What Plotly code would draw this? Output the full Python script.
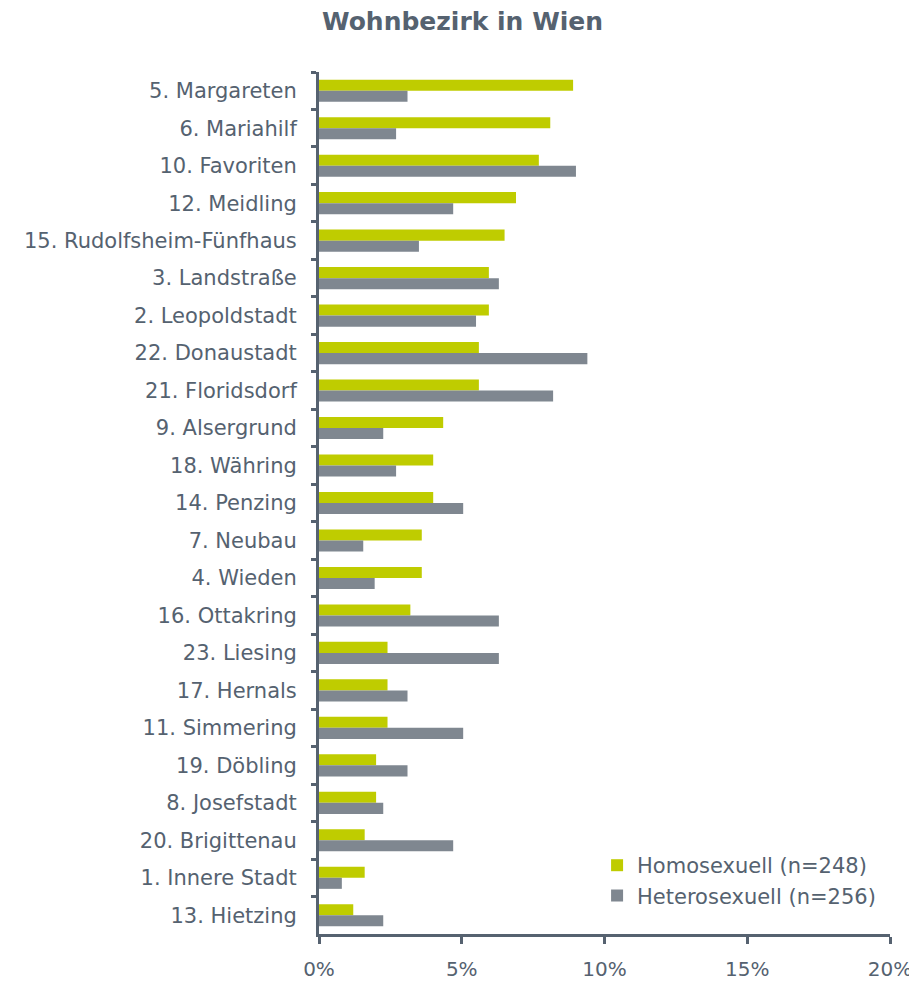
import plotly.graph_objects as go

# districts, top to bottom as in the chart
bezirke = ['5. Margareten', '6. Mariahilf', '10. Favoriten', '12. Meidling',
           '15. Rudolfsheim-Fünfhaus', '3. Landstraße', '2. Leopoldstadt',
           '22. Donaustadt', '21. Floridsdorf', '9. Alsergrund', '18. Währing',
           '14. Penzing', '7. Neubau', '4. Wieden', '16. Ottakring', '23. Liesing',
           '17. Hernals', '11. Simmering', '19. Döbling', '8. Josefstadt',
           '20. Brigittenau', '1. Innere Stadt', '13. Hietzing']

# percent values
homo = [8.9, 8.1, 7.7, 6.9, 6.5, 5.95, 5.95, 5.6, 5.6, 4.35, 4.0, 4.0, 3.6, 3.6,
        3.2, 2.4, 2.4, 2.4, 2.0, 2.0, 1.6, 1.6, 1.2]
hetero = [3.1, 2.7, 9.0, 4.7, 3.5, 6.3, 5.5, 9.4, 8.2, 2.25, 2.7, 5.05, 1.55, 1.95,
          6.3, 6.3, 3.1, 5.05, 3.1, 2.25, 4.7, 0.8, 2.25]

x_ticks = [0, 5, 10, 15, 20]
x_labels = ['0%', '5%', '10%', '15%', '20%']

GREEN = '#bfcc00'
GRAY = '#7f8790'
TEXT = '#556270'
AXIS = '#566270'
FONT = 'Verdana, DejaVu Sans, sans-serif'

fig = go.Figure()
fig.add_trace(go.Bar(y=bezirke, x=homo, orientation='h', name='Homosexuell (n=248)',
                     marker=dict(color=GREEN, line=dict(width=0))))
fig.add_trace(go.Bar(y=bezirke, x=hetero, orientation='h', name='Heterosexuell (n=256)',
                     marker=dict(color=GRAY, line=dict(width=0))))

# the page body has an 8px margin, so the figure is a bit smaller than the window
fig.update_layout(
    width=909, height=973,
    paper_bgcolor='white', plot_bgcolor='white',
    margin=dict(l=311, r=27, t=64, b=47),
    barmode='group', bargap=0.41, bargroupgap=0,
    font=dict(family=FONT, size=21, color=TEXT),
    title=dict(text='<b>Wohnbezirk in Wien</b>', x=0.5, xanchor='center',
               y=0.986, yanchor='middle', font=dict(size=25, color=TEXT)),
    legend=dict(x=0.487, y=0.062, xanchor='left', yanchor='middle',
                bgcolor='rgba(0,0,0,0)', font=dict(size=21, color=TEXT),
                itemwidth=30, tracegroupgap=0),
    xaxis=dict(range=[0, 20], tickmode='array', tickvals=x_ticks, ticktext=x_labels,
               showgrid=False, zeroline=False, showline=True, linecolor=AXIS,
               linewidth=3, ticks='outside', ticklen=7, tickwidth=3, tickcolor=AXIS,
               tickfont=dict(size=20), ticklabelstandoff=8, automargin=False),
    yaxis=dict(autorange='reversed', showgrid=False, showline=True, linecolor=AXIS,
               linewidth=3, ticks='outside', tickson='boundaries', ticklen=5,
               tickwidth=3, tickcolor=AXIS, ticklabelstandoff=15, automargin=False),
)

fig.write_html('out.html')
